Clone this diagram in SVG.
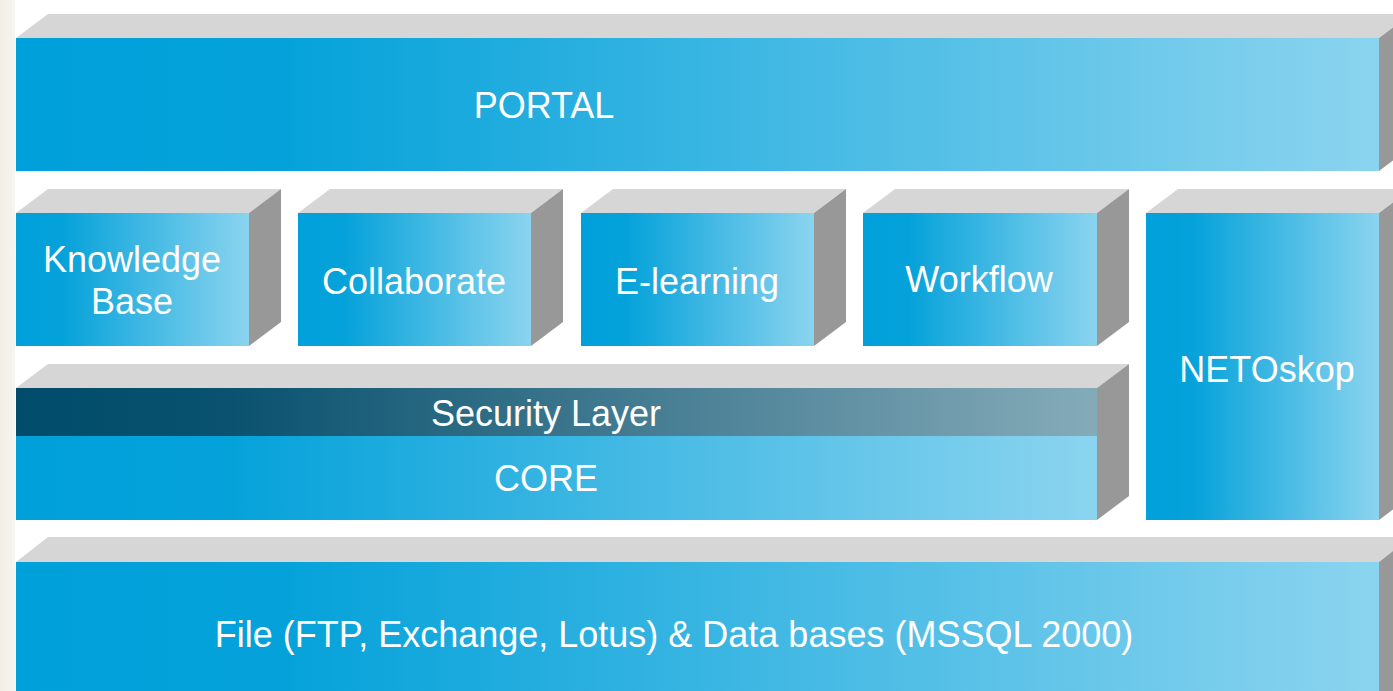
<svg xmlns="http://www.w3.org/2000/svg" width="1393" height="691" viewBox="0 0 1393 691">
<defs>
<linearGradient id="blue" x1="0" y1="0" x2="1" y2="0">
<stop offset="0" stop-color="#00a0da"/>
<stop offset="0.2" stop-color="#05a2da"/>
<stop offset="1" stop-color="#8bd4ef"/>
</linearGradient>
<linearGradient id="sec" x1="0" y1="0" x2="1" y2="0">
<stop offset="0" stop-color="#004c6a"/>
<stop offset="0.2" stop-color="#0a526f"/>
<stop offset="1" stop-color="#85abb9"/>
</linearGradient>
<linearGradient id="bg" x1="0" y1="0" x2="1" y2="0">
<stop offset="0" stop-color="#f1ede5"/>
<stop offset="1" stop-color="#f8f6f2"/>
</linearGradient>
</defs>
<style>
.top{fill:#d6d6d6}
.side{fill:#989898}
.front{fill:url(#blue)}
.t{font-family:"Liberation Sans",Arial,sans-serif;font-size:36px;fill:#ffffff;text-anchor:middle}
</style>
<rect x="0" y="0" width="1393" height="691" fill="#ffffff"/>
<rect x="0" y="0" width="15" height="691" fill="url(#bg)"/>

<g id="portal">
<polygon class="top" points="16,38 48,14 1411,14 1379,38"/>
<polygon class="side" points="1379,38 1411,14 1411,147 1379,171"/>
<rect class="front" x="16" y="38" width="1363" height="133"/>
<text class="t" x="544" y="118">PORTAL</text>
</g>

<g id="knowledge-base">
<polygon class="top" points="16,213 48,189 281,189 249,213"/>
<polygon class="side" points="249,213 281,189 281,322 249,346"/>
<rect class="front" x="16" y="213" width="233" height="133"/>
<text class="t" x="132" y="272">Knowledge</text>
<text class="t" x="132" y="314">Base</text>
</g>

<g id="collaborate">
<polygon class="top" points="298,213 330,189 563,189 531,213"/>
<polygon class="side" points="531,213 563,189 563,322 531,346"/>
<rect class="front" x="298" y="213" width="233" height="133"/>
<text class="t" x="414" y="294">Collaborate</text>
</g>

<g id="e-learning">
<polygon class="top" points="581,213 613,189 846,189 814,213"/>
<polygon class="side" points="814,213 846,189 846,322 814,346"/>
<rect class="front" x="581" y="213" width="233" height="133"/>
<text class="t" x="697" y="294">E-learning</text>
</g>

<g id="workflow">
<polygon class="top" points="863,213 895,189 1129,189 1097,213"/>
<polygon class="side" points="1097,213 1129,189 1129,322 1097,346"/>
<rect class="front" x="863" y="213" width="234" height="133"/>
<text class="t" x="979" y="292">Workflow</text>
</g>

<g id="netoskop">
<polygon class="top" points="1146,213 1178,189 1411,189 1379,213"/>
<polygon class="side" points="1379,213 1411,189 1411,496 1379,520"/>
<rect class="front" x="1146" y="213" width="233" height="307"/>
<text class="t" x="1267" y="382">NETOskop</text>
</g>

<g id="core">
<polygon class="top" points="16,388 48,364 1129,364 1097,388"/>
<polygon class="side" points="1097,388 1129,364 1129,496 1097,520"/>
<rect class="front" x="16" y="388" width="1081" height="132"/>
<rect x="16" y="388" width="1081" height="48" fill="url(#sec)"/>
<text class="t" x="546" y="426">Security Layer</text>
<text class="t" x="546" y="491">CORE</text>
</g>

<g id="data">
<polygon class="top" points="16,562 48,537 1411,537 1379,562"/>
<polygon class="side" points="1379,562 1411,537 1411,700 1379,700"/>
<rect class="front" x="16" y="562" width="1363" height="140"/>
<text class="t" x="674" y="647">File (FTP, Exchange, Lotus) &amp; Data bases (MSSQL 2000)</text>
</g>

<g id="connectors"/>
</svg>
